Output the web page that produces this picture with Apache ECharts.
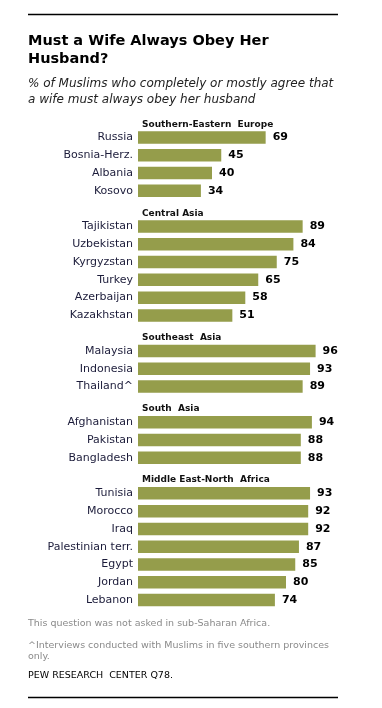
<!DOCTYPE html>
<html><head><meta charset="utf-8">
<script src="https://cdn.jsdelivr.net/npm/echarts@6/dist/echarts.min.js"></script>
<style>html,body{margin:0;padding:0;background:#fff}#c{width:382px;height:708px}</style>
</head><body><div id="c"></div>
<script>
const groups = ["Southern-Eastern  Europe", "Central Asia", "Southeast  Asia", "South  Asia", "Middle East-North  Africa"];
const countries = [
  ["Russia", "Bosnia-Herz.", "Albania", "Kosovo"],
  ["Tajikistan", "Uzbekistan", "Kyrgyzstan", "Turkey", "Azerbaijan", "Kazakhstan"],
  ["Malaysia", "Indonesia", "Thailand^"],
  ["Afghanistan", "Pakistan", "Bangladesh"],
  ["Tunisia", "Morocco", "Iraq", "Palestinian terr.", "Egypt", "Jordan", "Lebanon"]
];
const values = [
  [69, 45, 40, 34],
  [89, 84, 75, 65, 58, 51],
  [96, 93, 89],
  [94, 88, 88],
  [93, 92, 92, 87, 85, 80, 74]
];

// build slots: a header slot before each group
const cats = [], headerCats = [], barData = [];
groups.forEach((g, gi) => {
  cats.push('__h' + gi); headerCats.push(g); barData.push('-');
  countries[gi].forEach((c, i) => {
    cats.push(c); headerCats.push(''); barData.push(values[gi][i]);
  });
});

const chart = echarts.init(document.getElementById('c'), null, {renderer: 'canvas'});
const F = '"DejaVu Sans", Verdana, sans-serif';
chart.setOption({
  animation: false,
  backgroundColor: '#fff',
  title: [
    {text: 'Must a Wife Always Obey Her\nHusband?', left: 28, top: 32, padding: 0,
     textStyle: {fontFamily: F, fontSize: 14.5, fontWeight: 'bold', color: '#000', lineHeight: 18}},
    {text: '% of Muslims who completely or mostly agree that\na wife must always obey her husband', left: 28, top: 76, padding: 0,
     textStyle: {fontFamily: F, fontSize: 12, fontStyle: 'italic', fontWeight: 'normal', color: '#222', lineHeight: 16}},
    {text: 'This question was not asked in sub-Saharan Africa.', left: 28, top: 619, padding: 0,
     textStyle: {fontFamily: F, fontSize: 9.5, fontWeight: 'normal', color: '#8a8a8a'}},
    {text: '^Interviews conducted with Muslims in five southern provinces\nonly.', left: 28, top: 640, padding: 0,
     textStyle: {fontFamily: F, fontSize: 9.5, fontWeight: 'normal', color: '#8a8a8a', lineHeight: 11}},
    {text: 'PEW RESEARCH  CENTER Q78.', left: 28, top: 671, padding: 0,
     textStyle: {fontFamily: F, fontSize: 9.5, fontWeight: 'normal', color: '#000'}}
  ],
  graphic: [
    {type: 'line', shape: {x1: 28, y1: 14.5, x2: 338, y2: 14.5}, style: {stroke: '#000', lineWidth: 1.5}},
    {type: 'line', shape: {x1: 28, y1: 697.5, x2: 338, y2: 697.5}, style: {stroke: '#000', lineWidth: 1.5}}
  ],
  grid: {left: 138, right: 59, top: 110.8, bottom: 99, containLabel: false},
  xAxis: {type: 'value', min: 0, max: 100, show: false},
  yAxis: [
    {type: 'category', data: cats, inverse: true, position: 'left',
     axisLine: {show: false}, axisTick: {show: false}, splitLine: {show: false},
     axisLabel: {margin: 5, fontFamily: F, fontSize: 11, color: '#1c1c3a', interval: 0,
       formatter: v => v.startsWith('__h') ? '' : v}},
    {type: 'category', data: headerCats, inverse: true, position: 'left',
     axisLine: {show: false}, axisTick: {show: false}, splitLine: {show: false},
     axisLabel: {inside: true, margin: 4, interval: 0, fontFamily: F, fontSize: 9, fontWeight: 'bold',
       color: '#111', verticalAlign: 'top'}}
  ],
  series: [{
    type: 'bar', yAxisIndex: 0, data: barData, barWidth: 12.5,
    itemStyle: {color: '#959d4b'},
    label: {show: true, position: 'right', distance: 7, fontFamily: F, fontSize: 11,
      fontWeight: 'bold', color: '#000'}
  }]
});
</script>
</body></html>
